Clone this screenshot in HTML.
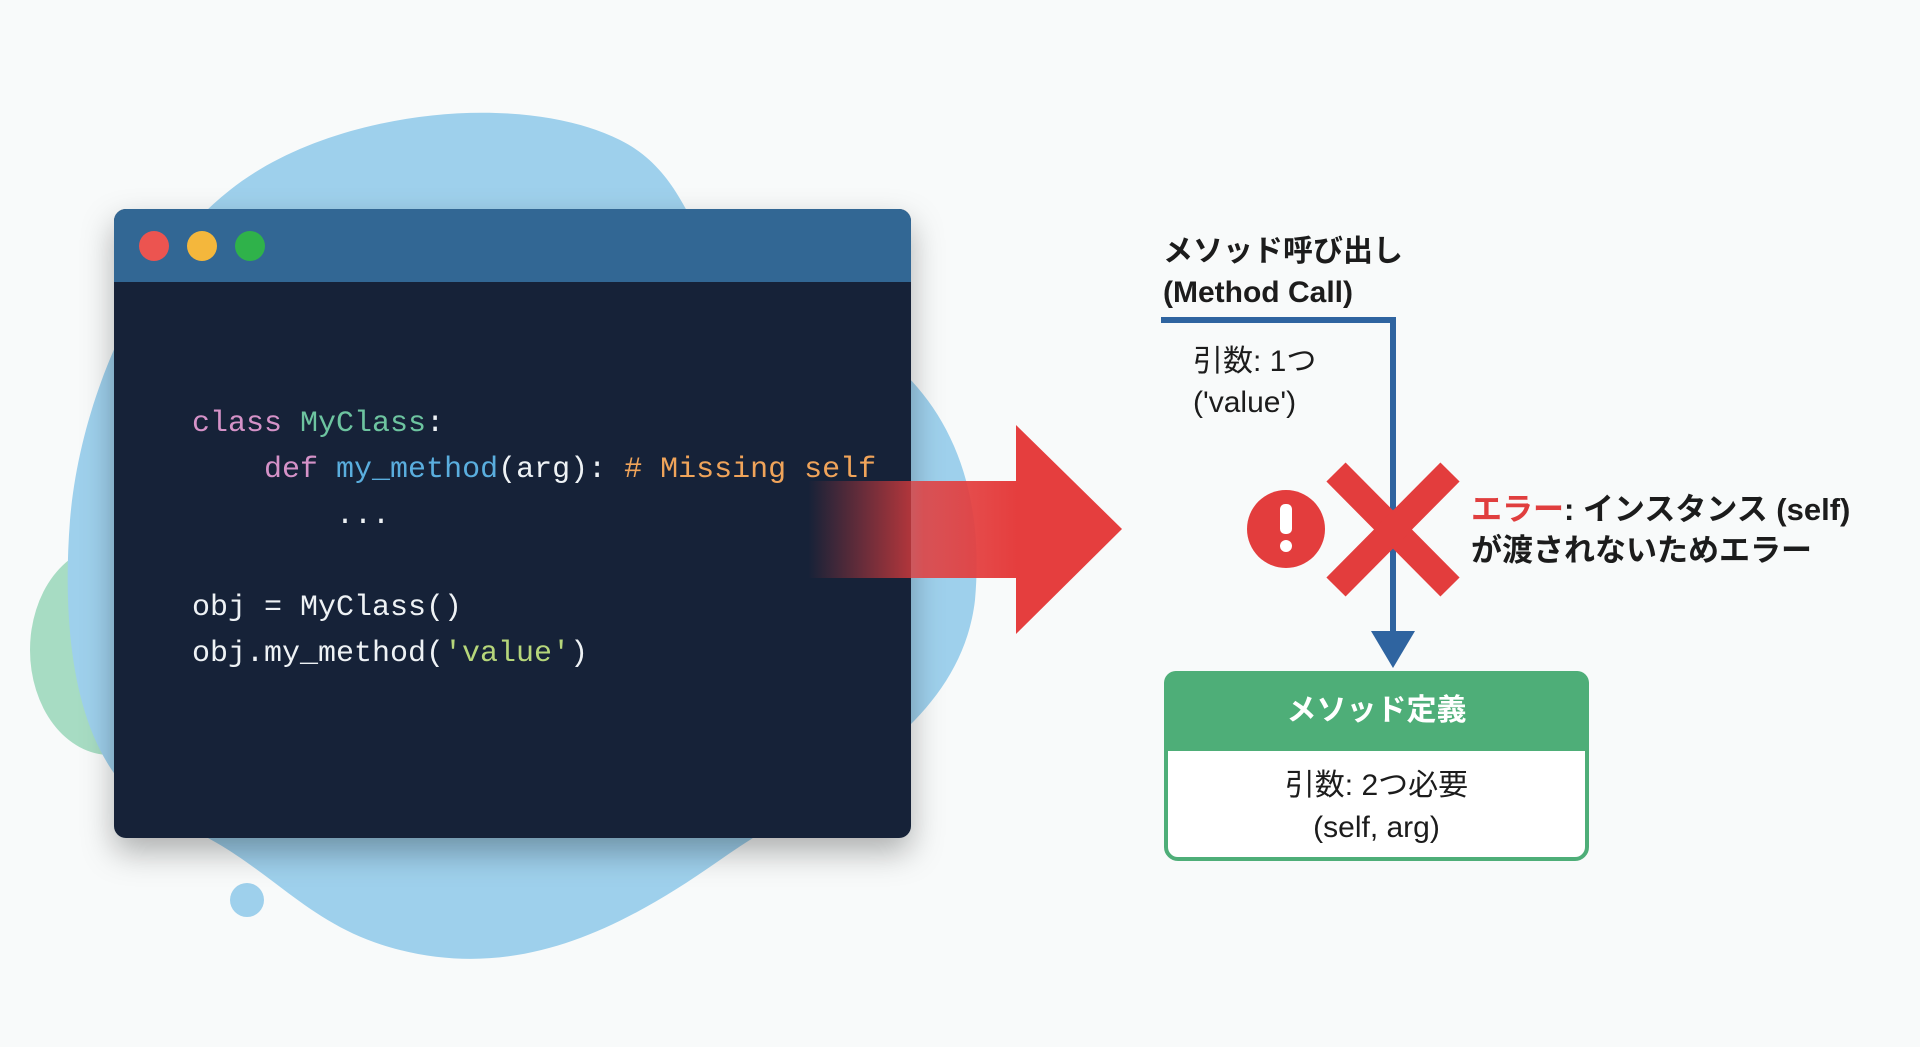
<!DOCTYPE html>
<html><head><meta charset="utf-8"><style>
html,body{margin:0;padding:0;width:1920px;height:1047px;overflow:hidden;background:#f8fafa;}
.abs{position:absolute;}
.code{font-family:"Liberation Mono",monospace;font-size:30px;color:#eef2f5;white-space:pre;letter-spacing:0px;}
.jp{font-family:"Liberation Sans","Noto Sans CJK JP",sans-serif;color:#1c1c1c;}
</style></head><body>
<svg class="abs" style="left:0;top:0" width="1920" height="1047">
  <defs>
    <linearGradient id="rg" x1="0" x2="1" y1="0" y2="0">
      <stop offset="0" stop-color="#e23c3c" stop-opacity="0"/>
      <stop offset="0.55" stop-color="#e23c3c" stop-opacity="0.85"/>
      <stop offset="1" stop-color="#e53e3e"/>
    </linearGradient>
    <filter id="sh" x="-10%" y="-10%" width="130%" height="130%"><feDropShadow dx="0" dy="14" stdDeviation="16" flood-color="#000" flood-opacity="0.3"/></filter>
  </defs>
  <ellipse cx="110" cy="650" rx="80" ry="105" fill="#a7dcc3"/>
  <path d="M230 190 C330 110 520 90 620 140 C700 180 690 270 760 300 C900 330 990 430 975 600 C960 730 820 790 720 860 C620 930 520 980 400 950 C300 925 270 860 170 820 C80 780 60 650 70 520 C80 400 140 260 230 190 Z" fill="#9ed0ec"/>
  <circle cx="247" cy="900" r="17" fill="#9ed0ec"/>
  <g filter="url(#sh)">
    <rect x="114" y="209" width="797" height="629" rx="12" fill="#132338"/>
  </g>
  <path d="M126 209 H899 A12 12 0 0 1 911 221 V282 H114 V221 A12 12 0 0 1 126 209 Z" fill="#326794"/>
  <circle cx="154" cy="246" r="15" fill="#ec5450"/>
  <circle cx="202" cy="246" r="15" fill="#f4b73c"/>
  <circle cx="250" cy="246" r="15" fill="#2fb24a"/>
  <rect x="808" y="481" width="210" height="97" fill="url(#rg)"/>
  <polygon points="1016,425 1122,529 1016,634" fill="#e53e3e"/>
  <polyline points="1161,320 1393,320 1393,636" fill="none" stroke="#2f64a0" stroke-width="6"/>
  <polygon points="1371,631 1415,631 1393,668" fill="#2f64a0"/>
  <line x1="1336" y1="472" x2="1450" y2="587" stroke="#e33d3d" stroke-width="27"/>
  <line x1="1450" y1="472" x2="1336" y2="587" stroke="#e33d3d" stroke-width="27"/>
  <circle cx="1286" cy="529" r="39" fill="#e33d3d"/>
  <rect x="1280" y="504" width="12" height="30" rx="5" fill="#fff"/>
  <circle cx="1286" cy="546" r="6" fill="#fff"/>
  <rect x="1166" y="673" width="421" height="186" rx="12" fill="#fff" stroke="#4eae78" stroke-width="4"/>
  <path d="M1176 671 H1577 A12 12 0 0 1 1589 683 V751 H1164 V683 A12 12 0 0 1 1176 671 Z" fill="#4eae78"/>
</svg>
<div class="abs code" style="left:192px;top:401px;line-height:46px;"><span style="color:#d592c8">class</span> <span style="color:#6dc4a0">MyClass</span>:
    <span style="color:#d592c8">def</span> <span style="color:#5aaede">my_method</span>(arg): <span style="color:#f0a45a"># Missing self</span>
        ...

obj = MyClass()
obj.my_method(<span style="color:#b6d67a">'value'</span>)</div>
<div class="abs jp" style="left:1163px;top:231px;font-size:30px;font-weight:bold;line-height:41px;">メソッド呼び出し<br>(Method Call)</div>
<div class="abs jp" style="left:1193px;top:341px;font-size:30px;line-height:41px;">引数: 1つ<br>('value')</div>
<div class="abs jp" style="left:1471px;top:489px;font-size:31px;font-weight:bold;line-height:41px;"><span style="color:#e03e3e">エラー</span>: インスタンス (self)<br>が渡されないためエラー</div>
<div class="abs jp" style="left:1164px;top:691px;width:425px;text-align:center;font-size:30px;font-weight:bold;color:#fff;line-height:40px;">メソッド定義</div>
<div class="abs jp" style="left:1164px;top:765px;width:425px;text-align:center;font-size:30px;line-height:42px;">引数: 2つ必要<br>(self, arg)</div>
</body></html>
